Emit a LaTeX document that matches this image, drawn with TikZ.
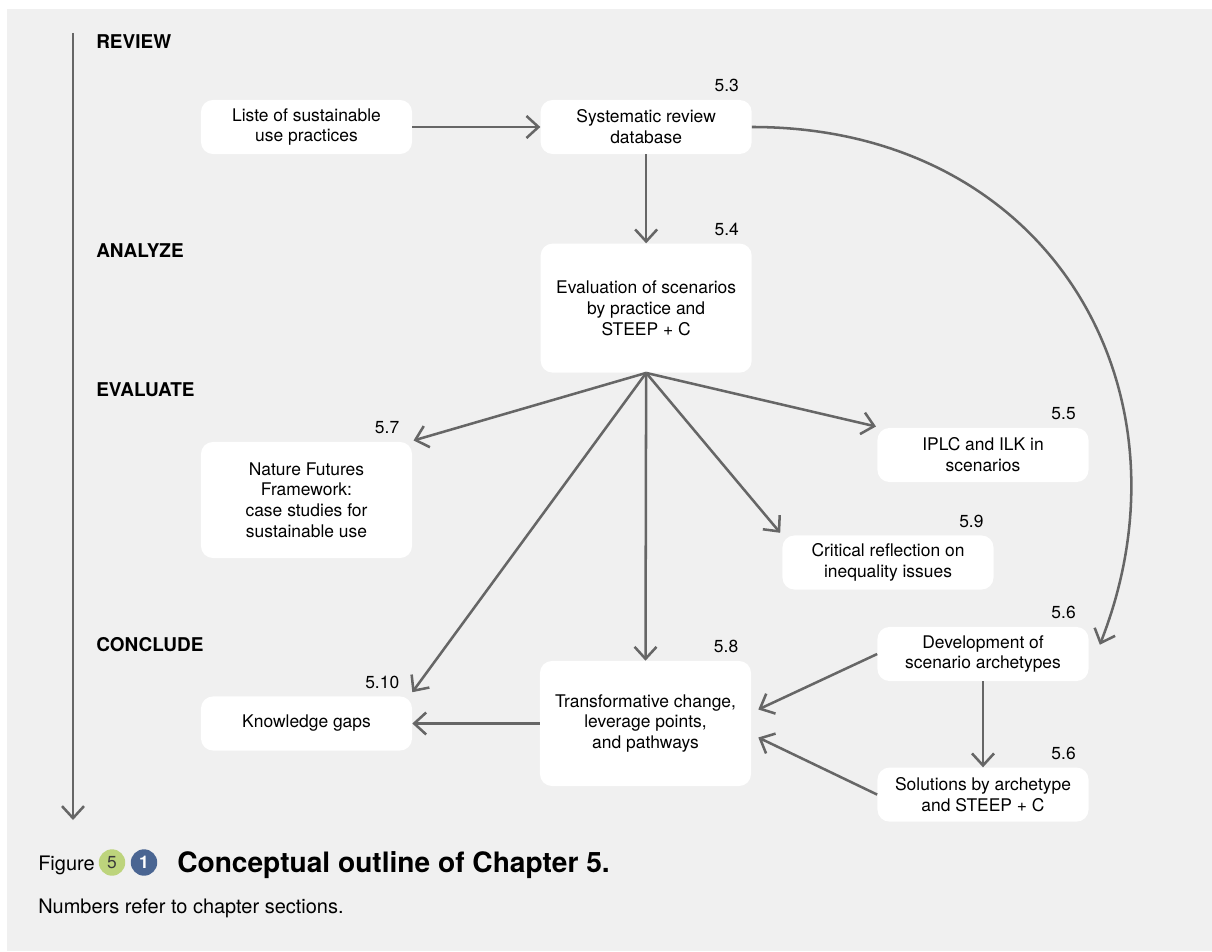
\documentclass[tikz,border=0pt]{standalone}
\usepackage{fontspec}
\setmainfont{TeX Gyre Heros}
\usepackage{tikz}
\usetikzlibrary{positioning, arrows.meta, calc}

\definecolor{bggray}{HTML}{F0F0F0}
\definecolor{arrowgray}{HTML}{666666}
\definecolor{figgreen}{HTML}{BDD47C}
\definecolor{figblue}{HTML}{4A6592}
\definecolor{numgray}{HTML}{3A3A3A}

\begin{document}
\begin{tikzpicture}[
    x=0.025cm, y=-0.025cm,
    box/.style={fill=white, rounded corners=0.3cm, minimum width=5.275cm, minimum height=1.35cm, align=center, inner sep=2pt, font=\fontsize{12.4}{14.8}\selectfont},
    secnum/.style={anchor=south east, inner sep=0pt, font=\fontsize{12.4}{14.8}\selectfont},
    stage/.style={anchor=base west, inner sep=0pt, font=\fontsize{13.5}{16}\selectfont\bfseries},
    flow/.style={draw=arrowgray, line width=1.8pt, -{Straight Barb[length=0.3cm, width=0.55cm]}},
    fignum/.style={circle, minimum size=0.66cm, inner sep=0pt, font=\fontsize{12.4}{14}\selectfont},
    captxt/.style={anchor=base west, inner sep=0pt, font=\fontsize{14.2}{17}\selectfont},
    capttitle/.style={anchor=base west, inner sep=0pt, font=\fontsize{20}{24}\selectfont\bfseries}
]

% Hintergrund
\useasboundingbox (0,0) rectangle (1212,952);
\fill[bggray] (7,9) rectangle (1212,951);

% Phasen
\coordinate (tltop) at (73,33);
\coordinate (tlend) at (73,820);
\draw[flow] (tltop) -- (tlend);
\node[stage] (review) at (96,49) {REVIEW};
\node[stage] (analyze) at (96,258) {ANALYZE};
\node[stage] (evaluate) at (96,396) {EVALUATE};
\node[stage] (conclude) at (96,651) {CONCLUDE};

% Boxen
\node[box] (liste) at (306.5,127) {Liste of sustainable\\use practices};
\node[box, right=3.2cm of liste] (sysrev) {Systematic review\\database};
\node[box, minimum height=3.225cm, below=2.225cm of sysrev] (evalsc) {Evaluation of scenarios\\by practice and\\STEEP + C};
\node[box, minimum height=2.9cm] (nff) at (306.5,500) {Nature Futures\\Framework:\\case studies for\\sustainable use};
\node[box] (iplc) at (983,455) {IPLC and ILK in\\scenarios};
\node[box] (crit) at (888,562.5) {Critical reflection on\\inequality issues};
\node[box] (devarch) at (983,654) {Development of\\scenario archetypes};
\node[box, below=2.15cm of devarch] (sol) {Solutions by archetype\\and STEEP + C};
\node[box, minimum height=3.125cm] (transf) at (645.5,723.5) {Transformative change,\\leverage points,\\and pathways};
\node[box] (gaps) at (306.5,723.5) {Knowledge gaps};

% Abschnittsnummern
\node[secnum] (s53) at ([xshift=-0.32cm, yshift=0.18cm]sysrev.north east) {5.3};
\node[secnum] (s54) at ([xshift=-0.32cm, yshift=0.18cm]evalsc.north east) {5.4};
\node[secnum] (s57) at ([xshift=-0.32cm, yshift=0.18cm]nff.north east) {5.7};
\node[secnum] (s55) at ([xshift=-0.32cm, yshift=0.18cm]iplc.north east) {5.5};
\node[secnum] (s59) at ([xshift=-0.25cm, yshift=0.18cm]crit.north east) {5.9};
\node[secnum] (s56a) at ([xshift=-0.32cm, yshift=0.18cm]devarch.north east) {5.6};
\node[secnum] (s56b) at ([xshift=-0.32cm, yshift=0.18cm]sol.north east) {5.6};
\node[secnum] (s58) at ([xshift=-0.32cm, yshift=0.18cm]transf.north east) {5.8};
\node[secnum] (s510) at ([xshift=-0.32cm, yshift=0.18cm]gaps.north east) {5.10};

% Pfeile
\coordinate (devtip) at ([xshift=0.275cm, yshift=-0.45cm]devarch.north east);
\coordinate (transfup) at ([xshift=0.175cm, yshift=0.35cm]transf.east);
\coordinate (transfdown) at ([xshift=0.175cm, yshift=-0.35cm]transf.east);

\draw[flow] (liste.east) -- (sysrev.west);
\draw[flow] (sysrev.south) -- (evalsc.north);
\draw[flow] (sysrev.east) .. controls (1050,127) and (1200,390) .. (devtip);
\draw[flow] (evalsc.south) -- ([shift={(0.03cm,0.03cm)}]nff.north east);
\draw[flow] (evalsc.south) -- ([shift={(-0.03cm,0.03cm)}]iplc.north west);
\draw[flow] (evalsc.south) -- ([shift={(-0.05cm,0.06cm)}]crit.north west);
\draw[flow] (evalsc.south) -- ([shift={(0cm,0.1cm)}]gaps.north east);
\draw[flow] (evalsc.south) -- (transf.north);
\draw[flow] (devarch.west) -- (transfup);
\draw[flow] (devarch.south) -- (sol.north);
\draw[flow] (sol.west) -- (transfdown);
\draw[flow] (transf.west) -- (gaps.east);

% Bildunterschrift
\node[captxt] (figword) at (38,870) {Figure};
\node[fignum, fill=figgreen, text=numgray] (fig5) at (112,862.5) {5};
\node[fignum, fill=figblue, text=white] (fig1) at (144,862.5) {\bfseries 1};
\node[capttitle] (title) at (177,872) {Conceptual outline of Chapter 5.};
\node[captxt] (note) at (38,913) {Numbers refer to chapter sections.};

\end{tikzpicture}
\end{document}
